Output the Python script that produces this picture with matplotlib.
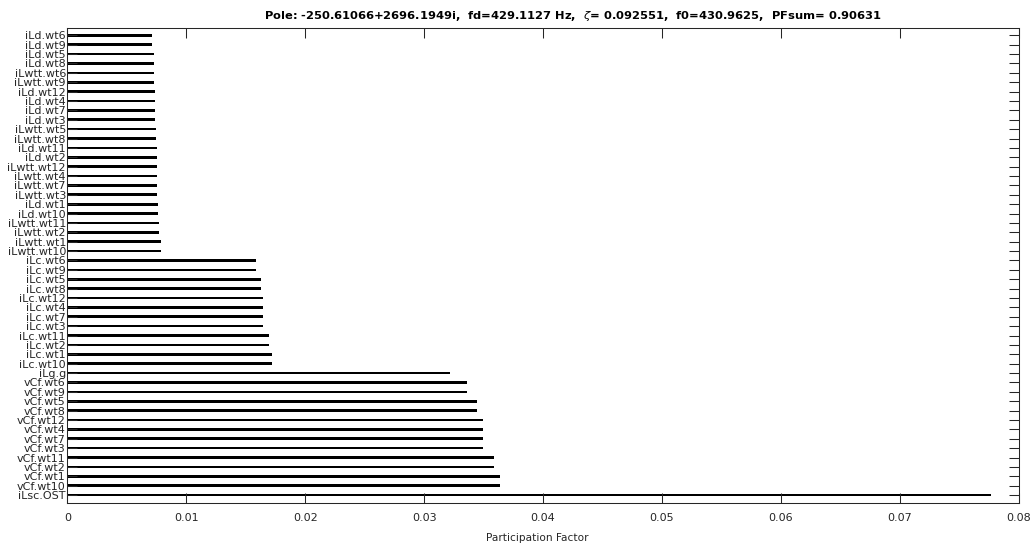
import numpy as np
import matplotlib
matplotlib.use("Agg")
import matplotlib.pyplot as plt

# State names, listed from the top of the chart to the bottom
states = [
    "iLd.wt6", "iLd.wt9", "iLd.wt5", "iLd.wt8", "iLwtt.wt6", "iLwtt.wt9",
    "iLd.wt12", "iLd.wt4", "iLd.wt7", "iLd.wt3", "iLwtt.wt5", "iLwtt.wt8",
    "iLd.wt11", "iLd.wt2", "iLwtt.wt12", "iLwtt.wt4", "iLwtt.wt7", "iLwtt.wt3",
    "iLd.wt1", "iLd.wt10", "iLwtt.wt11", "iLwtt.wt2", "iLwtt.wt1", "iLwtt.wt10",
    "iLc.wt6", "iLc.wt9", "iLc.wt5", "iLc.wt8", "iLc.wt12", "iLc.wt4",
    "iLc.wt7", "iLc.wt3", "iLc.wt11", "iLc.wt2", "iLc.wt1", "iLc.wt10",
    "iLg.g",
    "vCf.wt6", "vCf.wt9", "vCf.wt5", "vCf.wt8", "vCf.wt12", "vCf.wt4",
    "vCf.wt7", "vCf.wt3", "vCf.wt11", "vCf.wt2", "vCf.wt1", "vCf.wt10",
    "iLsc.OST",
]

# Participation factor of each state (same order as above)
pf = [
    0.00710, 0.00710, 0.00727, 0.00727, 0.00727, 0.00727,
    0.00735, 0.00735, 0.00735, 0.00735, 0.00743, 0.00743,
    0.00752, 0.00754, 0.00754, 0.00754, 0.00754, 0.00754,
    0.00765, 0.00765, 0.00774, 0.00774, 0.00785, 0.00785,
    0.01584, 0.01584, 0.01626, 0.01626, 0.01648, 0.01648,
    0.01648, 0.01648, 0.01694, 0.01694, 0.01719, 0.01719,
    0.03218,
    0.03358, 0.03358, 0.03448, 0.03448, 0.03496, 0.03496,
    0.03496, 0.03496, 0.03591, 0.03591, 0.03639, 0.03639,
    0.07765,
]

x_ticks = [0, 0.01, 0.02, 0.03, 0.04, 0.05, 0.06, 0.07, 0.08]
x_tick_labels = ["0", "0.01", "0.02", "0.03", "0.04", "0.05", "0.06", "0.07", "0.08"]

title = ("Pole: -250.61066+2696.1949i,  fd=429.1127 Hz,  $\\zeta$= 0.092551,  "
         "f0=430.9625,  PFsum= 0.90631")

plt.rcParams["font.family"] = ["DejaVu Sans"]
plt.rcParams["mathtext.fontset"] = "dejavusans"

axis_color = (0.15, 0.15, 0.15)

fig = plt.figure(figsize=(10.33, 5.43), dpi=100)
ax = fig.add_axes([0.06515, 0.07311, 0.92101, 0.87587])

n = len(states)
ypos = np.arange(n)[::-1]
ax.barh(ypos, pf, height=0.28, color="black", edgecolor="none", zorder=1)

ax.set_xlim(0, 0.08)
ax.set_ylim(-0.88, n - 1 + 0.81)
ax.set_xticks(x_ticks)
ax.set_xticklabels(x_tick_labels)
ax.set_yticks(ypos)
ax.set_yticklabels(states)

ax.tick_params(axis="both", direction="in", length=7, width=0.75,
               color=axis_color, labelcolor=axis_color, labelsize=8.0,
               top=True, right=True)
ax.tick_params(axis="y", pad=1.0)
ax.tick_params(axis="x", pad=7.0)
for s in ax.spines.values():
    s.set_color(axis_color)
    s.set_linewidth(0.75)

ax.set_xlabel("Participation Factor", fontsize=7.6, color=axis_color, labelpad=4)
ax.xaxis.set_label_coords(0.494, -0.062)

ax.text(0.5315, 1.018, title, transform=ax.transAxes, ha="center", va="baseline",
        fontsize=8.25, fontweight="bold", color="black")

fig.savefig("out.png", dpi=100, facecolor="white")
